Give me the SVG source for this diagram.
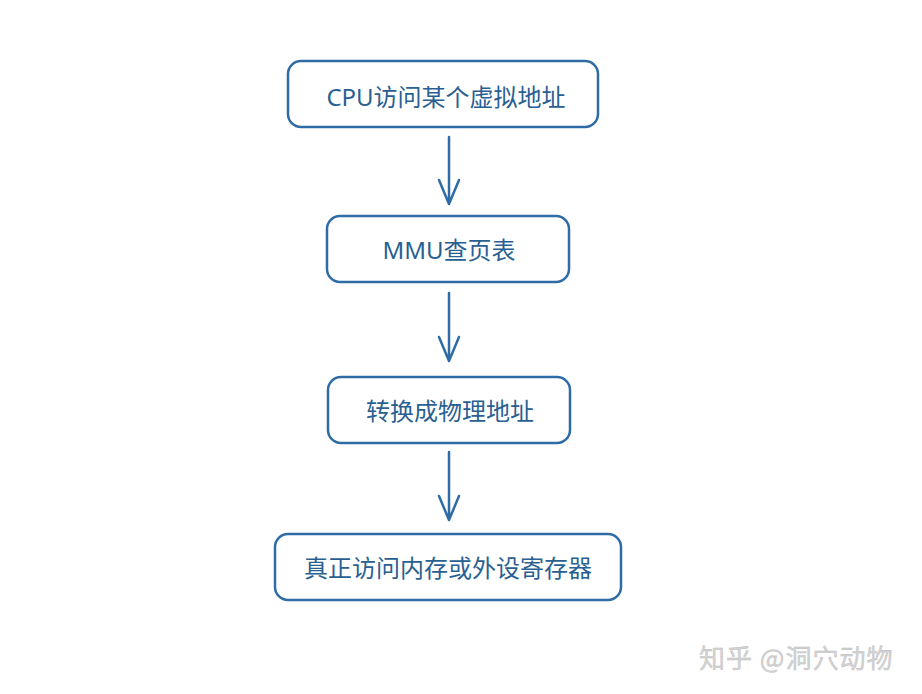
<svg xmlns="http://www.w3.org/2000/svg" width="922" height="694" viewBox="0 0 922 694">
<style>
.box{fill:#ffffff;stroke:#2f6ca6;stroke-width:2.5}
.t{font-family:"Noto Sans","Noto Sans CJK SC",sans-serif;font-size:24px;fill:#2a5f92;text-anchor:middle;dominant-baseline:central}
.c{stroke:#2f6ca6;stroke-width:2.5;fill:none;stroke-linecap:round;stroke-linejoin:round}
.wm{font-family:"Noto Sans CJK SC",sans-serif;font-size:26px;fill:#d4d4d4;stroke:#bdbdbd;stroke-width:0.4;letter-spacing:1px}
</style>
<rect width="922" height="694" fill="#ffffff"/>
<g id="n1"><rect class="box" x="288" y="61" width="310" height="66" rx="13"/><text class="t" x="446" y="96">CPU访问某个虚拟地址</text></g>
<g id="n2"><rect class="box" x="327" y="216" width="242" height="66" rx="13"/><text class="t" x="449" y="249">MMU查页表</text></g>
<g id="n3"><rect class="box" x="328" y="377" width="242" height="66" rx="13"/><text class="t" x="450" y="410">转换成物理地址</text></g>
<g id="n4"><rect class="box" x="275" y="534" width="346" height="66" rx="13"/><text class="t" x="448" y="567">真正访问内存或外设寄存器</text></g>
<g id="connectors">
<path class="c" d="M449 137V204M439 180L449 204L459 180"/>
<path class="c" d="M449 293V361M439 337L449 361L459 337"/>
<path class="c" d="M449 452V520M439 496L449 520L459 496"/>
</g>
<text class="wm" x="699" y="668">知乎 @洞穴动物</text>
</svg>
